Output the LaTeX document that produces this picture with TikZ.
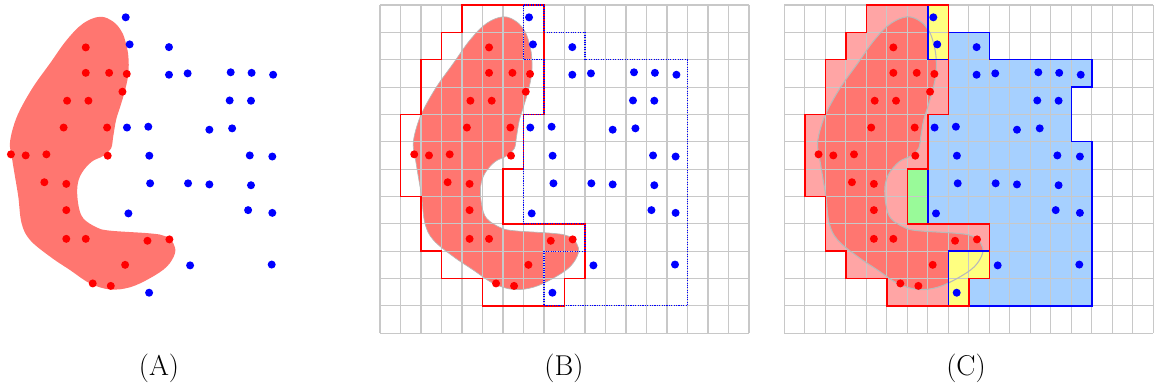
\documentclass[tikz,border=0pt]{standalone}
\usepackage{tikz}
\definecolor{blobc}{RGB}{255,118,112}
\definecolor{pinkc}{RGB}{255,165,165}
\definecolor{bluec}{RGB}{166,208,255}
\definecolor{greenc}{RGB}{153,250,153}
\definecolor{yellowc}{RGB}{255,255,128}
\definecolor{gridc}{RGB}{200,200,200}
\definecolor{outlc}{RGB}{185,185,185}
\tikzset{
  gridl/.style={draw=gridc, line width=0.8pt},
  redline/.style={draw=red, line width=1.1pt, line join=miter},
  blueline/.style={draw=blue, line width=1.1pt, line join=miter},
  bluedot/.style={draw=blue, line width=0.8pt, densely dotted},
  reddot/.style={fill=red},
  bdot/.style={fill=blue},
  lab/.style={font=\fontsize{21.5}{26}\selectfont, anchor=base, inner sep=0pt},
  panel/.style={x=15.375pt, y=-20.5125pt}
}
\newcommand\blobshape[1]{\path[#1] plot[smooth cycle, tension=0.6] coordinates{
 (6.02,0.43) (6.66,0.61) (7.07,0.97) (7.28,1.40) (7.40,1.89) (7.40,2.50) (7.24,3.11) (7.00,3.72) (6.80,4.20) (6.66,4.81) (6.55,5.25) (6.17,5.52) (5.61,5.73) (5.12,6.15) (4.91,6.64) (4.96,7.31) (5.20,7.80) (5.85,8.13) (6.50,8.25) (8.45,8.35) (9.19,8.45) (9.59,8.71) (9.67,9.08) (9.27,9.57) (8.45,9.99) (7.48,10.32) (6.50,10.40) (5.53,10.18) (4.55,9.69) (3.58,9.20) (2.60,8.59) (2.19,7.98) (2.03,7.01) (1.87,6.28) (1.71,5.55) (1.62,5.06) (1.79,4.45) (2.11,3.84) (2.76,2.99) (3.58,2.13) (4.39,1.28) (5.20,0.67)};}
\newcommand\redpoly[1]{\path[#1] (4,0) -- (8,0) -- (8,4) -- (7,4) -- (7,6) -- (6,6) -- (6,8) -- (10,8) -- (10,10) -- (9,10) -- (9,11) -- (5,11) -- (5,10) -- (3,10) -- (3,9) -- (2,9) -- (2,7) -- (1,7) -- (1,4) -- (2,4) -- (2,2) -- (3,2) -- (3,1) -- (4,1) -- cycle;}
\newcommand\bluepolyB[1]{\path[#1] (7,0) -- (8,0) -- (8,1) -- (10,1) -- (10,2) -- (15,2) -- (15,11) -- (8,11) -- (8,9) -- (10,9) -- (10,8) -- (7,8) -- (7,4) -- (8,4) -- (8,2) -- (7,2) -- cycle;}
\newcommand\bluepolyC[1]{\path[#1] (7,0) -- (8,0) -- (8,1) -- (10,1) -- (10,2) -- (15,2) -- (15,3) -- (14,3) -- (14,5) -- (15,5) -- (15,11) -- (8,11) -- (8,9) -- (10,9) -- (10,8) -- (7,8) -- (7,4) -- (8,4) -- (8,2) -- (7,2) -- cycle;}
\newcommand\gridlines{\foreach \i in {0,...,18}{\draw[gridl] (\i,0) -- (\i,12);}
  \foreach \j in {0,...,12}{\draw[gridl] (0,\j) -- (18,\j);}}
\newcommand\alldots{%
 \foreach \a/\b in {5.32/1.55, 5.32/2.48, 6.46/2.48, 7.32/2.52, 7.11/3.17, 4.41/3.50, 5.45/3.50, 4.24/4.48, 6.36/4.48, 1.67/5.46, 2.39/5.50, 3.40/5.46, 6.39/5.51, 3.30/6.48, 4.37/6.54, 4.37/7.50, 4.37/8.55, 5.32/8.55, 8.33/8.62, 9.40/8.57, 7.24/9.50, 5.66/10.18, 6.54/10.27}{\path[reddot] (\a,\b) circle[radius=3pt];}
 \foreach \a/\b in {7.27/0.45, 7.46/1.44, 9.38/1.54, 9.38/2.55, 10.29/2.50, 12.39/2.46, 13.41/2.48, 14.46/2.55, 12.34/3.49, 13.38/3.50, 7.33/4.48, 8.37/4.45, 11.35/4.56, 12.46/4.51, 8.42/5.51, 13.32/5.50, 14.42/5.54, 8.46/6.52, 10.31/6.52, 11.35/6.56, 13.38/6.59, 7.40/7.62, 13.24/7.50, 14.42/7.60, 10.41/9.52, 14.39/9.49, 8.41/10.52}{\path[bdot] (\a,\b) circle[radius=3pt];}}
\begin{document}
\begin{tikzpicture}[x=0.75pt, y=-0.75pt]
\useasboundingbox (0,0) rectangle (1158,387);
% panel A
\begin{scope}[shift={(-23.3,5)}, panel]
  \blobshape{fill=blobc}
  \alldots
\end{scope}
% panel B
\begin{scope}[shift={(380,5)}, panel]
  \blobshape{fill=blobc}
  \gridlines
  \blobshape{draw=outlc, line width=0.5pt}
  \redpoly{redline}
  \bluepolyB{bluedot}
  \alldots
\end{scope}
% panel C
\begin{scope}[shift={(784.3,5)}, panel]
  \redpoly{fill=pinkc}
  \blobshape{fill=blobc}
  \bluepolyC{fill=bluec}
  \path[fill=yellowc] (7,0) rectangle (8,2);
  \path[fill=yellowc] (8,9) rectangle (10,10);
  \path[fill=yellowc] (8,10) rectangle (9,11);
  \path[fill=greenc] (6,6) rectangle (7,8);
  \gridlines
  \blobshape{draw=outlc, line width=0.8pt}
  \bluepolyC{blueline}
  \redpoly{redline}
  \alldots
\end{scope}
\node[lab] (la) at (159,375) {(A)};
\node[lab] (lb) at (564,375) {(B)};
\node[lab] (lc) at (966,375) {(C)};
\end{tikzpicture}
\end{document}
